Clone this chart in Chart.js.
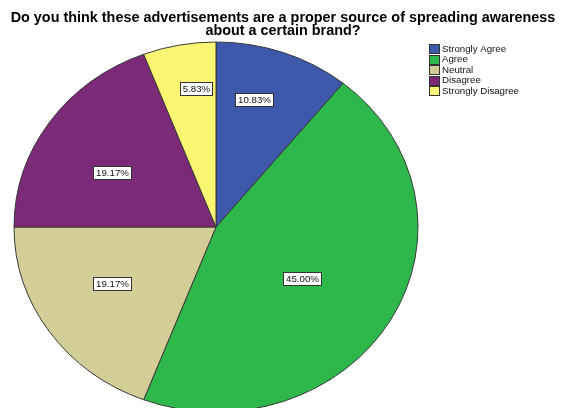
<!DOCTYPE html>
<html>
<head>
<meta charset="utf-8">
<script src="https://cdn.jsdelivr.net/npm/chart.js@4.4.1/dist/chart.umd.min.js"></script>
<style>
  html, body { margin: 0; padding: 0; background: #fff; overflow: hidden; width: 562px; height: 408px; }
  #wrap { position: relative; width: 562px; height: 408px; overflow: hidden; }
  canvas { display: block; }
</style>
</head>
<body>
<div id="wrap"><canvas id="c" width="562" height="460"></canvas></div>
<script>
// Survey answers and their shares of respondents (%)
const categories = ['Strongly Agree', 'Agree', 'Neutral', 'Disagree', 'Strongly Disagree'];
const percentages = [10.83, 45.00, 19.17, 19.17, 5.83];
const sliceColors = ['#3E58AC', '#2EB84B', '#D3CE98', '#7B2A78', '#FAF674'];
const titleLines = [
  'Do you think these advertisements are a proper source of spreading awareness',
  'about a certain brand?'
];

// Value label placement inside each slice:
// fraction along the slice's sweep, and fraction of the radius
const labelSweep = [0.395, 0.518, 0.552, 0.43, 0.64];
const labelDepth = [0.714, 0.510, 0.598, 0.592, 0.754];

// The pie is drawn slightly flattened vertically
const FLATTEN = 185 / 202;
const FONT = '"Liberation Sans", Arial, sans-serif';

const ellipsePlugin = {
  id: 'ellipse',
  beforeDatasetsDraw(chart) {
    const a = chart.getDatasetMeta(0).data[0];
    const ctx = chart.ctx;
    ctx.save();
    ctx.translate(a.x, a.y);
    ctx.scale(1, FLATTEN);
    ctx.translate(-a.x, -a.y);
  },
  afterDatasetsDraw(chart) {
    chart.ctx.restore();
  }
};

const decorPlugin = {
  id: 'decor',
  afterDraw(chart) {
    const ctx = chart.ctx;
    ctx.save();

    // value labels in white boxes
    ctx.font = '9.7px ' + FONT;
    ctx.textAlign = 'center';
    ctx.textBaseline = 'middle';
    chart.getDatasetMeta(0).data.forEach((arc, i) => {
      const p = arc.getProps(['x', 'y', 'startAngle', 'endAngle', 'outerRadius'], true);
      const ang = p.startAngle + (p.endAngle - p.startAngle) * labelSweep[i];
      const r = p.outerRadius * labelDepth[i];
      const px = p.x + Math.cos(ang) * r;
      const py = p.y + Math.sin(ang) * r * FLATTEN;
      const txt = percentages[i].toFixed(2) + '%';
      const w = Math.round(ctx.measureText(txt).width + 5);
      const h = 13;
      const bx = Math.round(px - w / 2) + 0.5;
      const by = Math.round(py - h / 2) + 0.5;
      ctx.fillStyle = '#ffffff';
      ctx.fillRect(bx, by, w, h);
      ctx.strokeStyle = '#333333';
      ctx.lineWidth = 1;
      ctx.strokeRect(bx, by, w, h);
      ctx.fillStyle = '#111111';
      ctx.fillText(txt, bx + w / 2, by + h / 2 + 0.5);
    });

    // title
    ctx.fillStyle = '#000000';
    ctx.font = 'bold 14.4px ' + FONT;
    ctx.textAlign = 'center';
    ctx.textBaseline = 'alphabetic';
    ctx.fillText(titleLines[0], 283, 22);
    ctx.fillText(titleLines[1], 283, 35);

    // legend
    ctx.font = '9.7px ' + FONT;
    ctx.textAlign = 'left';
    ctx.textBaseline = 'middle';
    categories.forEach((name, i) => {
      const cy = 48.5 + i * 10.6;
      ctx.fillStyle = sliceColors[i];
      ctx.fillRect(429.5, Math.round(cy - 4.5) + 0.5, 10, 9);
      ctx.strokeStyle = '#333333';
      ctx.lineWidth = 1;
      ctx.strokeRect(429.5, Math.round(cy - 4.5) + 0.5, 10, 9);
      ctx.fillStyle = '#111111';
      ctx.fillText(name, 442, cy + 0.5);
    });

    ctx.restore();
  }
};

new Chart(document.getElementById('c'), {
  type: 'pie',
  data: {
    labels: categories,
    datasets: [{
      data: percentages,
      backgroundColor: sliceColors,
      borderColor: '#333333',
      borderWidth: 1
    }]
  },
  options: {
    responsive: false,
    devicePixelRatio: 1,
    animation: false,
    radius: 202,
    layout: { padding: { left: 14, right: 144, top: 25, bottom: 31 } },
    plugins: {
      legend: { display: false },
      title: { display: false },
      tooltip: { enabled: false }
    },
    events: []
  },
  plugins: [ellipsePlugin, decorPlugin]
});
</script>
</body>
</html>
